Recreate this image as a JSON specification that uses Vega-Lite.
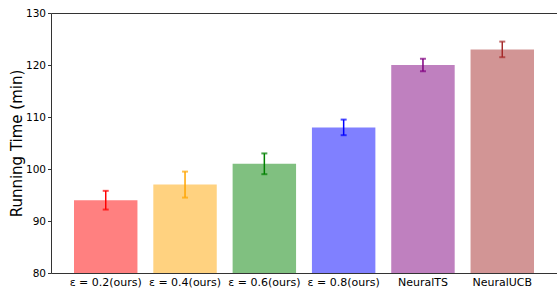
{
  "$schema": "https://vega.github.io/schema/vega-lite/v6.json",
  "autosize": {"type": "none"},
  "padding": {"left": 51, "top": 13, "right": 0, "bottom": 15},
  "width": 506,
  "height": 260,
  "background": "white",
  "config": {
    "font": "DejaVu Sans",
    "view": {"stroke": "#333", "strokeWidth": 1}
  },
  "data": {
    "values": [
      {"method": "ε = 0.2(ours)", "time": 94.0, "lo": 92.2, "hi": 95.8, "c": "#ff0000", "f": "#ff8080"},
      {"method": "ε = 0.4(ours)", "time": 97.0, "lo": 94.5, "hi": 99.5, "c": "#ffa500", "f": "#ffd280"},
      {"method": "ε = 0.6(ours)", "time": 101.0, "lo": 99.0, "hi": 103.0, "c": "#008000", "f": "#80c080"},
      {"method": "ε = 0.8(ours)", "time": 108.0, "lo": 106.5, "hi": 109.5, "c": "#0000ff", "f": "#8080ff"},
      {"method": "NeuralTS", "time": 120.0, "lo": 118.8, "hi": 121.2, "c": "#800080", "f": "#bf80bf"},
      {"method": "NeuralUCB", "time": 123.0, "lo": 121.5, "hi": 124.5, "c": "#a52a2a", "f": "#d29595"}
    ]
  },
  "encoding": {
    "x": {
      "field": "method", "type": "nominal", "sort": null,
      "scale": {"paddingInner": 0.2, "paddingOuter": 0.29},
      "axis": {"title": null, "labelAngle": 0, "labelFontSize": 11, "labelColor": "#000", "ticks": false, "domain": false, "labelPadding": 3}
    }
  },
  "layer": [
    {
      "mark": {"type": "bar", "clip": true},
      "encoding": {
        "y": {
          "field": "time", "type": "quantitative",
          "scale": {"domain": [80, 130], "zero": false, "nice": false},
          "axis": {"title": "Running Time (min)", "titleFontSize": 15, "titleFontWeight": "normal", "titleColor": "#000", "titlePadding": 1, "labelFontSize": 10.5, "labelColor": "#000", "values": [80, 90, 100, 110, 120, 130], "grid": false, "tickSize": 3.5, "tickColor": "#333", "domain": false, "labelPadding": 2}
        },
        "color": {"field": "f", "type": "nominal", "scale": null}
      }
    },
    {
      "mark": {"type": "rule", "strokeWidth": 1.5},
      "encoding": {
        "y": {"field": "lo", "type": "quantitative"},
        "y2": {"field": "hi"},
        "color": {"field": "c", "type": "nominal", "scale": null}
      }
    },
    {
      "mark": {"type": "tick", "size": 6, "thickness": 2},
      "encoding": {
        "y": {"field": "lo", "type": "quantitative"},
        "color": {"field": "c", "type": "nominal", "scale": null}
      }
    },
    {
      "mark": {"type": "tick", "size": 6, "thickness": 2},
      "encoding": {
        "y": {"field": "hi", "type": "quantitative"},
        "color": {"field": "c", "type": "nominal", "scale": null}
      }
    }
  ]
}
